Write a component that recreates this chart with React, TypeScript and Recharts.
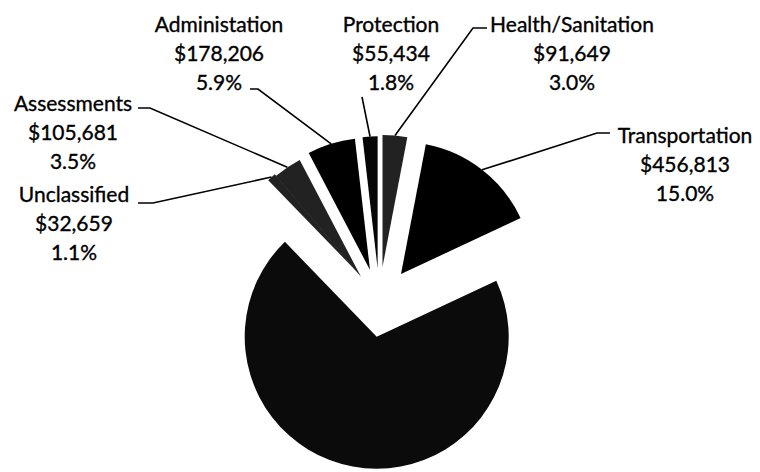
import React from 'react';
import { PieChart, Pie, Cell } from 'recharts';

// Slice order clockwise from 12 o'clock (as in the source chart)
const categories = ['Health/Sanitation', 'Transportation', 'Other', 'Unclassified', 'Assessments', 'Administation', 'Protection'];
const amounts = [91649, 456813, 2119558, 32659, 105681, 178206, 55434];
const showLabel = [true, true, false, true, true, true, true];

// styling / layout (kept separate from the data)
const fills = ['#222222', '#000000', '#0b0b0b', '#222222', '#222222', '#000000', '#060606'];
const CX = 376.7;
const CY = 336.7;
const R = 132;
const sliceOffsets: number[][] = [
  [5.8, -69.7],
  [24.3, -62.7],
  [0, 0],
  [-16.7, -61.7],
  [-15.7, -59.9],
  [-6.7, -66.7],
  [0.9, -68.4],
];
const labelLayout: ({ tx: number; ty: number; path: number[][] } | null)[] = [
  { tx: 572, ty: 31.5, path: [[473, 28], [487, 28]] },
  { tx: 685, ty: 143, path: [[597, 133], [610, 133]] },
  null,
  { tx: 74, ty: 202, path: [[153, 203], [138, 203]] },
  { tx: 73, ty: 111, path: [[150, 108], [138, 108]] },
  { tx: 219, ty: 31.5, path: [[258, 89], [250, 89]] },
  { tx: 391, ty: 31.5, path: [[362, 97]] },
];
const LINE_GAP = 29;

const data = categories.map((name, i) => ({ name, value: amounts[i] }));

function makeLabel(k: number) {
  return (p: any) => {
    if (p.index !== k || !showLabel[k]) return null;
    const L = labelLayout[k];
    if (!L) return null;
    const rad = Math.PI / 180;
    const ax = p.cx + p.outerRadius * Math.cos(-p.midAngle * rad);
    const ay = p.cy + p.outerRadius * Math.sin(-p.midAngle * rad);
    const pts = [[ax, ay], ...L.path].map((q) => q.join(',')).join(' ');
    return (
      <g key={'lbl' + k}>
        <polyline points={pts} fill="none" stroke="#000" strokeWidth={1.6} />
        <text
          x={L.tx}
          y={L.ty}
          textAnchor="middle"
          fill="#000"
          stroke="#000"
          strokeWidth={0.35}
          style={{ fontFamily: 'Lato, "Open Sans", sans-serif', fontSize: 21 }}
        >
          <tspan x={L.tx} dy={0}>{categories[k]}</tspan>
          <tspan x={L.tx} dy={LINE_GAP}>{'$' + amounts[k].toLocaleString('en-US')}</tspan>
          <tspan x={L.tx} dy={LINE_GAP}>{(p.percent * 100).toFixed(1) + '%'}</tspan>
        </text>
      </g>
    );
  };
}

export default function App() {
  return (
    <div style={{ position: 'absolute', left: 0, top: 0, width: 760, height: 472, background: '#fff' }}>
      <PieChart width={760} height={472} margin={{ top: 0, right: 0, bottom: 0, left: 0 }}>
        {categories.map((_, k) => (
          <Pie
            key={k}
            data={data}
            dataKey="value"
            nameKey="name"
            cx={CX + sliceOffsets[k][0]}
            cy={CY + sliceOffsets[k][1]}
            outerRadius={R}
            innerRadius={0}
            startAngle={90}
            endAngle={-270}
            stroke="none"
            isAnimationActive={false}
            labelLine={false}
            label={makeLabel(k)}
          >
            {data.map((_, i) => (
              <Cell key={i} fill={i === k ? fills[i] : 'none'} stroke="none" />
            ))}
          </Pie>
        ))}
      </PieChart>
    </div>
  );
}
